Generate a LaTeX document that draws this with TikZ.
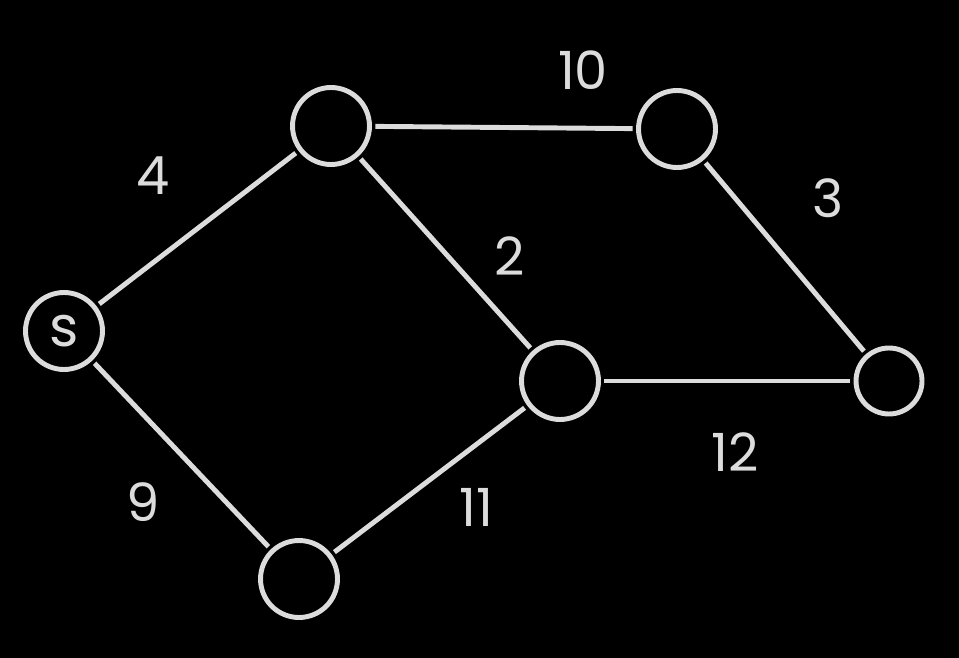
\documentclass[tikz,border=0pt]{standalone}
\usepackage{fontspec}
\setmainfont{Poppins}
\usepackage{tikz}
\usetikzlibrary{positioning}
\definecolor{chalk}{HTML}{DCDCDC}

\begin{document}
\begin{tikzpicture}[x=0.02cm, y=-0.02cm,
  vertex/.style={circle, draw=chalk, line width=2.8pt, minimum size=1.54cm, inner sep=0pt},
  edge/.style={chalk, line width=2.8pt, shorten <=2pt, shorten >=2pt},
  weight/.style={text=chalk, font=\fontsize{30}{30}\selectfont}]
% background
\fill[black] (0,0) rectangle (959,658);
\useasboundingbox (0,0) rectangle (959,658);

% vertices
\node[vertex, text=chalk, font=\fontsize{32}{32}\selectfont] (s) at (64,331) {s};
\node[vertex] (a) at (331,126) {};
\node[vertex] (b) at (677,129) {};
\node[vertex] (c) at (560,381) {};
\node[vertex, minimum size=1.32cm] (d) at (889,381) {};
\node[vertex] (e) at (299,579) {};

% edges
\draw[edge] (s) -- (a);
\draw[edge] (a) -- (b);
\draw[edge] (b) -- (d);
\draw[edge] (a) -- (c);
\draw[edge] (c) -- (d);
\draw[edge] (s) -- (e);
\draw[edge] (c) -- (e);

% weights
\node[weight] (w4) at (153,176) {4};
\node[weight] (w10) at (583,70) {10};
\node[weight] (w3) at (828,198) {3};
\node[weight] (w2) at (510,256) {2};
\node[weight] (w12) at (735,452) {12};
\node[weight] (w9) at (143,502) {9};
\node[weight] (w11) at (476,507) {11};
\end{tikzpicture}
\end{document}
